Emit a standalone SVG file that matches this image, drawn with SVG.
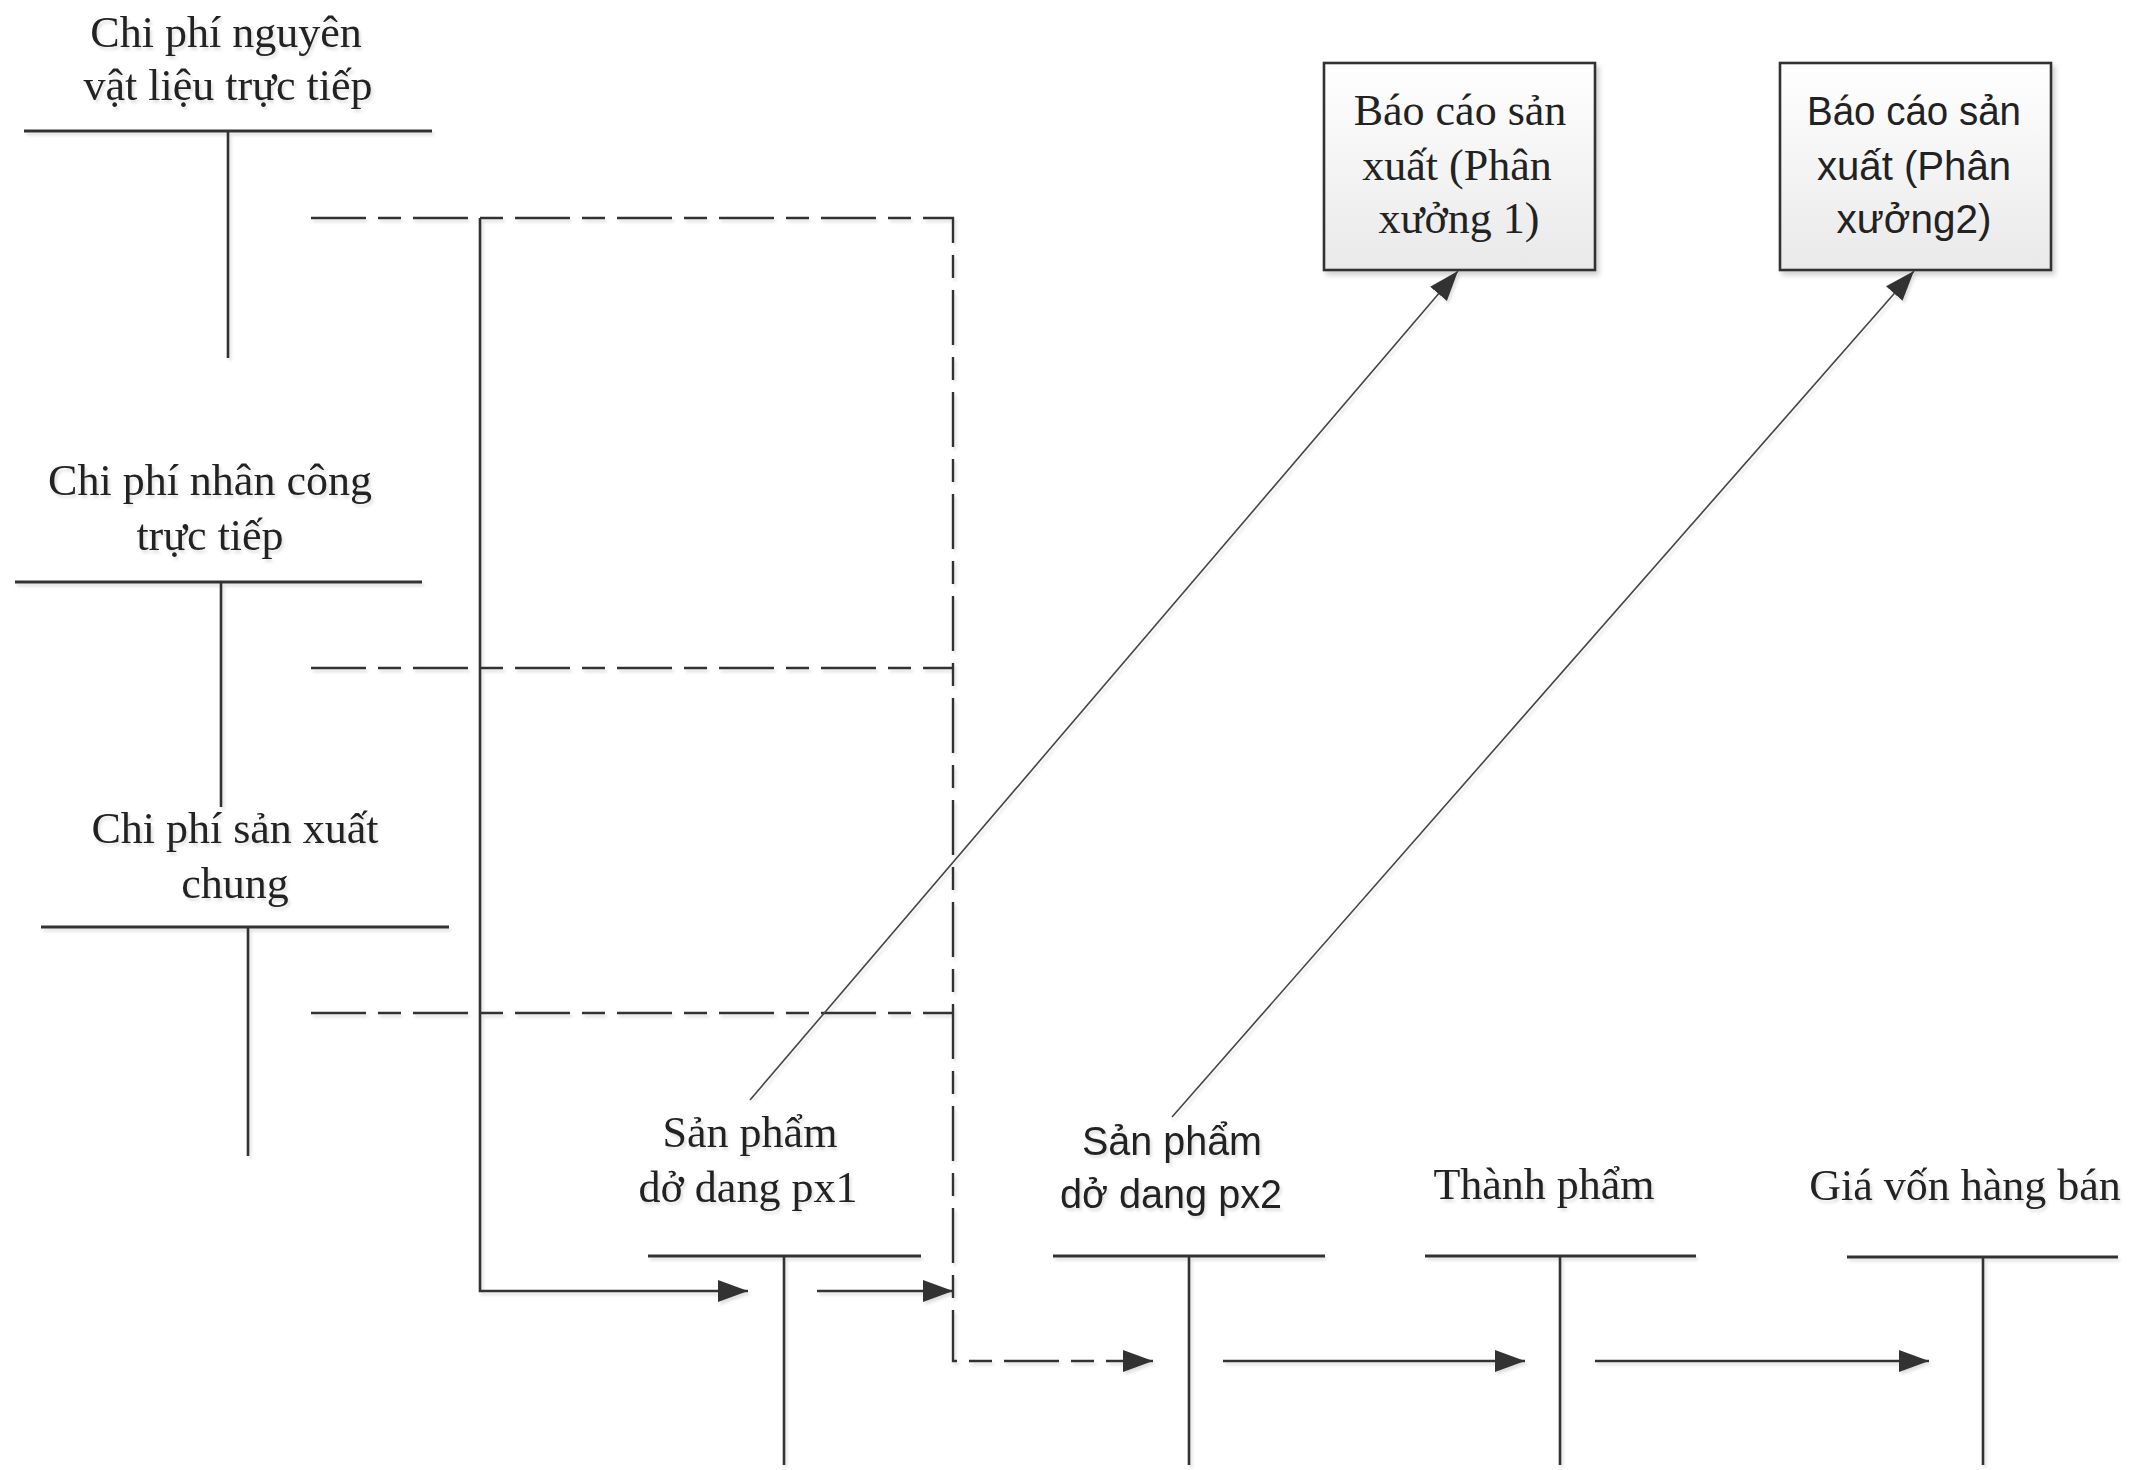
<svg xmlns="http://www.w3.org/2000/svg" width="2145" height="1470" viewBox="0 0 2145 1470">
  <style>
    .serif { font-family: "Liberation Serif", "Times New Roman", serif; font-size: 44px; fill: #222; text-anchor: middle; }
    .sans { font-family: "Liberation Sans", Arial, sans-serif; font-size: 41px; fill: #222; text-anchor: middle; }
    .tline { stroke: #333; stroke-width: 3; fill: none; stroke-linecap: butt; }
    .tstem { stroke: #333; stroke-width: 2.6; fill: none; }
    .flow { stroke: #333; stroke-width: 2.6; fill: none; }
    .dash { stroke: #333; stroke-width: 2.4; fill: none; stroke-dasharray: 55 12 23 12; }
    .diag { stroke: #444; stroke-width: 1.6; fill: none; }
    .box { fill: url(#boxFill); stroke: #333; stroke-width: 2.6; }
  </style>
  <defs>
    <linearGradient id="boxFill" x1="0" y1="0" x2="0" y2="1">
      <stop offset="0" stop-color="#ffffff"/>
      <stop offset="1" stop-color="#e9e9e9"/>
    </linearGradient>
    <filter id="soft" x="-10%" y="-10%" width="130%" height="130%">
      <feDropShadow dx="3" dy="4" stdDeviation="2.5" flood-color="#000" flood-opacity="0.18"/>
    </filter>
    <filter id="lineShadow" x="-5%" y="-5%" width="110%" height="110%">
      <feDropShadow dx="2" dy="3" stdDeviation="1.5" flood-color="#000" flood-opacity="0.12"/>
    </filter>
    <marker id="arrow" markerUnits="userSpaceOnUse" markerWidth="32" markerHeight="24" refX="30" refY="11" orient="auto">
      <path d="M0,0 L30,11 L0,22 z" fill="#333"/>
    </marker>
  </defs>

  <!-- T-accounts: cost accounts on the left -->
  <g id="t-nvl" filter="url(#lineShadow)">
    <text class="serif" x="226" y="47">Chi phí nguyên</text>
    <text class="serif" x="228" y="100">vật liệu trực tiếp</text>
    <line class="tline" x1="24" y1="131" x2="432" y2="131"/>
    <line class="tstem" x1="228" y1="131" x2="228" y2="358"/>
  </g>
  <g id="t-nc" filter="url(#lineShadow)">
    <text class="serif" x="210" y="495">Chi phí nhân công</text>
    <text class="serif" x="210" y="550">trực tiếp</text>
    <line class="tline" x1="15" y1="582" x2="422" y2="582"/>
    <line class="tstem" x1="221" y1="582" x2="221" y2="807"/>
  </g>
  <g id="t-sxc" filter="url(#lineShadow)">
    <text class="serif" x="235" y="843">Chi phí sản xuất</text>
    <text class="serif" x="235" y="898">chung</text>
    <line class="tline" x1="41" y1="927" x2="449" y2="927"/>
    <line class="tstem" x1="248" y1="927" x2="248" y2="1156"/>
  </g>

  <!-- T-accounts: production flow along the bottom -->
  <g id="t-dd1" filter="url(#lineShadow)">
    <text class="serif" x="750" y="1147">Sản phẩm</text>
    <text class="serif" x="748" y="1202">dở dang px1</text>
    <line class="tline" x1="648" y1="1256" x2="921" y2="1256"/>
    <line class="tstem" x1="784" y1="1256" x2="784" y2="1465"/>
  </g>
  <g id="t-dd2" filter="url(#lineShadow)">
    <text class="sans" x="1172" y="1155" textLength="180" lengthAdjust="spacingAndGlyphs">Sản phẩm</text>
    <text class="sans" x="1171" y="1208" textLength="222" lengthAdjust="spacingAndGlyphs">dở dang px2</text>
    <line class="tline" x1="1053" y1="1256" x2="1325" y2="1256"/>
    <line class="tstem" x1="1189" y1="1256" x2="1189" y2="1465"/>
  </g>
  <g id="t-tp" filter="url(#lineShadow)">
    <text class="serif" x="1544" y="1199">Thành phẩm</text>
    <line class="tline" x1="1425" y1="1256" x2="1696" y2="1256"/>
    <line class="tstem" x1="1560" y1="1256" x2="1560" y2="1465"/>
  </g>
  <g id="t-gv" filter="url(#lineShadow)">
    <text class="serif" x="1965" y="1200">Giá vốn hàng bán</text>
    <line class="tline" x1="1847" y1="1257" x2="2118" y2="1257"/>
    <line class="tstem" x1="1983" y1="1257" x2="1983" y2="1465"/>
  </g>

  <!-- Production reports -->
  <g id="report-px1">
    <rect class="box" x="1324" y="63" width="271" height="207" filter="url(#soft)"/>
    <text class="serif" x="1460" y="125">Báo cáo sản</text>
    <text class="serif" x="1457" y="180">xuất (Phân</text>
    <text class="serif" x="1459" y="233">xưởng 1)</text>
  </g>
  <g id="report-px2">
    <rect class="box" x="1780" y="63" width="271" height="207" filter="url(#soft)"/>
    <text class="sans" x="1914" y="125" textLength="214" lengthAdjust="spacingAndGlyphs">Báo cáo sản</text>
    <text class="sans" x="1914" y="180" textLength="194" lengthAdjust="spacingAndGlyphs">xuất (Phân</text>
    <text class="sans" x="1914" y="233" textLength="155" lengthAdjust="spacingAndGlyphs">xưởng2)</text>
  </g>

  <!-- Connectors -->
  <g id="connectors" filter="url(#lineShadow)">
    <!-- cost allocation (dashed) -->
    <path class="dash" d="M311,218 H953 V1361 H1153" marker-end="url(#arrow)"/>
    <path class="dash" d="M311,668 H953"/>
    <path class="dash" d="M311,1013 H953"/>
    <!-- direct charge into WIP px1 -->
    <path class="flow" d="M480,218 V1291 H748" marker-end="url(#arrow)"/>
    <path class="flow" d="M817,1291 H953" marker-end="url(#arrow)"/>
    <!-- downstream transfers -->
    <path class="flow" d="M1223,1361 H1525" marker-end="url(#arrow)"/>
    <path class="flow" d="M1595,1361 H1929" marker-end="url(#arrow)"/>
    <!-- reporting links -->
    <path class="diag" d="M750,1100 L1458,271" marker-end="url(#arrow)"/>
    <path class="diag" d="M1172,1117 L1914,271" marker-end="url(#arrow)"/>
  </g>
</svg>
